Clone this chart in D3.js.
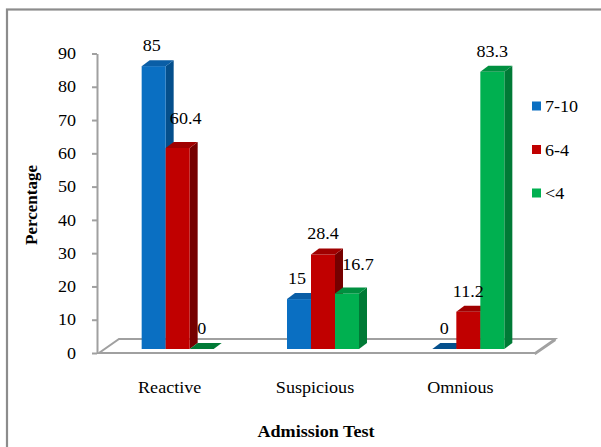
<!DOCTYPE html>
<html>
<head>
<meta charset="utf-8">
<script src="https://cdnjs.cloudflare.com/ajax/libs/d3/7.8.5/d3.min.js"></script>
<style>
  html, body { margin: 0; padding: 0; background: #fff; }
  svg { display: block; }
</style>
</head>
<body>
<svg id="chart" width="601" height="447"></svg>
<script>
// Admission test outcome by score group (percentages)
const categories = ["Reactive", "Suspicious", "Omnious"];
const seriesNames = ["7-10", "6-4", "<4"];
const values7to10 = [85, 15, 0];
const values6to4 = [60.4, 28.4, 11.2];
const valuesUnder4 = [0, 16.7, 83.3];
const yTicks = [0, 10, 20, 30, 40, 50, 60, 70, 80, 90];

const series = [
  { name: seriesNames[0], values: values7to10 },
  { name: seriesNames[1], values: values6to4 },
  { name: seriesNames[2], values: valuesUnder4 }
];

const FONT = "'Liberation Serif', 'Times New Roman', Times, serif";

// face colours per series: front, top, side
const palette = {
  "7-10": { front: "#0a6fc2", top: "#0a5ea6", side: "#044f8c" },
  "6-4":  { front: "#c00000", top: "#a00000", side: "#760000" },
  "<4":   { front: "#00b050", top: "#009040", side: "#007a36" }
};

// nudges for labels that sit beside a taller neighbour
const labelNudge = {
  "6-4|Reactive": [8, -9],
  "<4|Suspicious": [11, -8],
  "7-10|Reactive": [-2, 0],
  "7-10|Suspicious": [-2, 0]
};

const svg = d3.select("#chart").style("font-family", FONT);
const SX = 1.13; // horizontal stretch of the text

function stretchedText(g, x, y, str, opts = {}) {
  return g.append("text")
    .attr("transform", `translate(${x},${y}) scale(${SX},1)`)
    .attr("text-anchor", opts.anchor || "middle")
    .style("font-family", FONT)
    .style("font-size", (opts.size || 16) + "px")
    .style("font-weight", opts.bold ? "bold" : "normal")
    .style("fill", "#000")
    .text(str);
}

// outer frame
svg.append("rect")
  .attr("x", 7).attr("y", 9.5)
  .attr("width", 620).attr("height", 460)
  .attr("fill", "none").attr("stroke", "#8c8c8c").attr("stroke-width", 2.2);

const x0 = d3.scaleBand().domain(categories).range([99, 535]);
const x1 = d3.scaleBand().domain(seriesNames).range([0, 72]);
const y = d3.scaleLinear().domain([0, 90]).range([353, 53.5]);

// depth geometry
const floorDX = 20, floorDY = -14;
const baseDX = 6, baseDY = -4;     // bar row sits part-way into the floor
const topDX = 8, topDY = -6;       // bar thickness

// floor slab
const fx0 = x0.range()[0], fx1 = x0.range()[1], fy = y(0);
const floor = svg.append("g");
floor.append("path")
  .attr("d", `M${fx1},${fy + 1.5} L${fx1 + floorDX},${fy + floorDY + 1.5} L${fx1 + floorDX},${fy + floorDY}`)
  .attr("fill", "none").attr("stroke", "#a0a0a0").attr("stroke-width", 1.5);
floor.append("path")
  .attr("d", `M${fx0},${fy} L${fx1},${fy} L${fx1 + floorDX},${fy + floorDY} L${fx0 + floorDX},${fy + floorDY} Z`)
  .attr("fill", "#fff").attr("stroke", "#a0a0a0").attr("stroke-width", 2);

// y axis
const yAxis = svg.append("g")
  .attr("transform", "translate(97,0)")
  .call(d3.axisLeft(y).tickValues(yTicks).tickSize(5).tickSizeOuter(0).tickPadding(16));
yAxis.attr("font-family", null).attr("font-size", null);
yAxis.select(".domain").attr("stroke", "#a0a0a0").attr("stroke-width", 2);
yAxis.selectAll(".tick line").attr("stroke", "#a0a0a0").attr("stroke-width", 2);
yAxis.selectAll(".tick text")
  .style("font-size", "16px")
  .style("font-family", FONT)
  .style("fill", "#000")
  .attr("x", -21 / SX)
  .attr("transform", `scale(${SX},1)`);

// bars
const bars = svg.append("g");
categories.forEach((cat, ci) => {
  const gx = x0(cat) + x0.bandwidth() / 2 - 36 + baseDX;
  series.forEach(s => {
    const v = s.values[ci];
    const c = palette[s.name];
    const xl = gx + x1(s.name);
    const xr = xl + x1.bandwidth();
    const yb = y(0) + baseDY;
    const yt = y(v) + baseDY;
    if (v > 0) {
      bars.append("path")
        .attr("d", `M${xr},${yt} L${xr + topDX},${yt + topDY} L${xr + topDX},${yb + topDY} L${xr},${yb} Z`)
        .attr("fill", c.side);
      bars.append("rect")
        .attr("x", xl).attr("y", yt)
        .attr("width", x1.bandwidth()).attr("height", yb - yt)
        .attr("fill", c.front);
    }
    bars.append("path")
      .attr("d", `M${xl},${yt} L${xr},${yt} L${xr + topDX},${yt + topDY} L${xl + topDX},${yt + topDY} Z`)
      .attr("fill", v > 0 ? c.top : c.side);

    const nudge = labelNudge[s.name + "|" + cat] || [0, 0];
    stretchedText(svg, (xl + xr) / 2 + nudge[0], yt - 15 + nudge[1], String(v));
  });
});

// category labels
categories.forEach(cat => {
  stretchedText(svg, x0(cat) + x0.bandwidth() / 2 - 2, 393, cat);
});

// axis titles
stretchedText(svg, 316, 437, "Admission Test", { bold: true });
svg.append("text")
  .attr("transform", "translate(37,205) rotate(-90)")
  .attr("text-anchor", "middle")
  .style("font-family", FONT)
  .style("font-size", "17px")
  .style("font-weight", "bold")
  .style("fill", "#000")
  .text("Percentage");

// legend
const legend = svg.append("g");
series.forEach((s, i) => {
  const cy = 106 + i * 43.5;
  legend.append("rect")
    .attr("x", 532).attr("y", cy - 4.5)
    .attr("width", 9).attr("height", 9)
    .attr("fill", palette[s.name].front);
  stretchedText(legend, 545, cy + 6, s.name, { anchor: "start" });
});
</script>
</body>
</html>
